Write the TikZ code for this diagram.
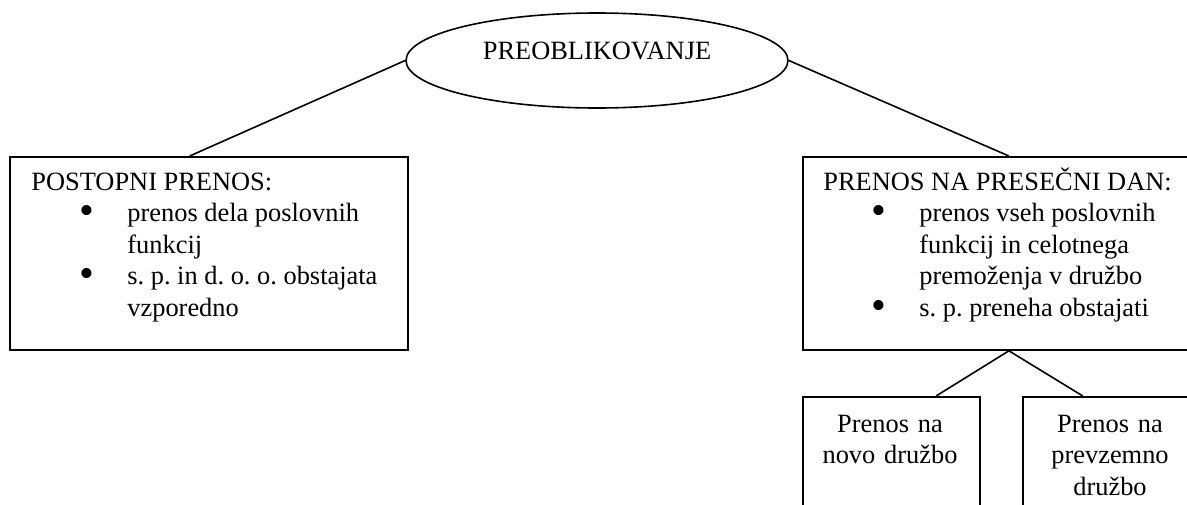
\documentclass[tikz,border=0pt]{standalone}
\usepackage{fontspec}
\setmainfont{Liberation Serif}
\usetikzlibrary{calc,shapes.geometric}
\newcommand{\blk}[1]{\begin{minipage}[t]{180pt}\raggedright #1\end{minipage}}
\newcommand{\itm}[1]{\par\noindent\hangindent=48pt\hangafter=1%
  \makebox[48pt][l]{\hspace{23.8pt}\raisebox{-1.5pt}{\scalebox{1.6}{\textbullet}}}#1}

\begin{document}
\begin{tikzpicture}[x=0.5pt, y=-0.5pt,
  font=\fontsize{13.2pt}{15.8pt}\selectfont\frenchspacing,
  topic/.style={draw, ellipse, line width=0.8pt, minimum width=191pt,
                minimum height=47.5pt, inner sep=0pt,
                text height=8.75pt, text depth=10.25pt},
  panel/.style={draw, anchor=north west, line width=0.9pt, inner sep=0pt},
  body/.style={anchor=base west, inner sep=0pt},
  subtxt/.style={anchor=base, inner sep=0pt, text width=80pt, align=center},
  ln/.style={line width=0.8pt}]
  \path[use as bounding box, clip] (0,0) rectangle (1187,504);
  \node[topic] (pre) at (597,60.5) {PREOBLIKOVANJE};
  \node[panel, minimum width=199pt, minimum height=96.5pt] (gradual) at (9,156) {};
  \node[panel, minimum width=206pt, minimum height=96.5pt] (cutover) at (802,156) {};
  \node[panel, minimum width=88.5pt, minimum height=60pt] (newco) at (802,396) {};
  \node[panel, minimum width=88.5pt, minimum height=60pt] (existco) at (1022,396) {};
  \node[body] (gradualtxt) at (31,190) {\blk{POSTOPNI PRENOS:%
    \itm{prenos dela poslovnih\newline funkcij}%
    \itm{s. p. in d. o. o. obstajata\newline vzporedno}}};
  \node[body] (cutovertxt) at (823,190) {\blk{PRENOS NA PRESEČNI DAN:%
    \itm{prenos vseh poslovnih\newline funkcij in celotnega\newline premoženja v družbo}%
    \itm{s. p. preneha obstajati}}};
  \node[subtxt] (newcotxt) at (890,432) {Prenos na\\novo družbo};
  \node[subtxt] (existcotxt) at (1110,432) {Prenos na\\prevzemno\\družbo};
  \draw[ln] (pre.west) -- ($(gradual.north west)!0.452!(gradual.north east)$);
  \draw[ln] (pre.east) -- (cutover.north);
  \foreach \b/\p in {newco/0.75, existco/0.34}{
    \draw[ln] (cutover.south) -- ($(\b.north west)!\p!(\b.north east)$);}
\end{tikzpicture}
\end{document}
